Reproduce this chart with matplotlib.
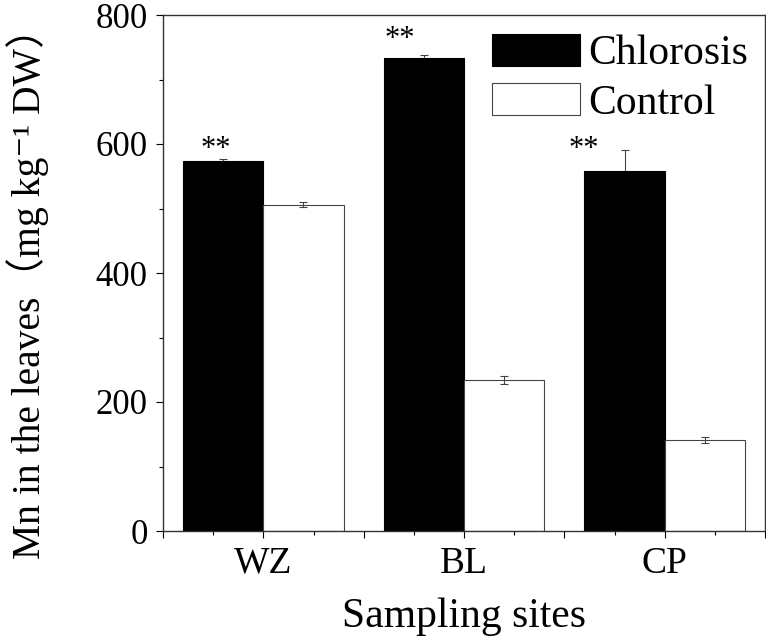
#!/usr/bin/env python3

import matplotlib.pyplot as plt
import numpy as np

plt.rcParams['font.family'] = ['Liberation Serif', 'Noto Sans CJK SC', 'DejaVu Serif']

sites = ["WZ", "BL", "CP"]
chlorosis = [573, 734, 558]
chlorosis_err = [4, 4, 32]
control = [506, 234, 141]
control_err = [4, 6, 4]
stars = ["**", "**", "**"]
star_y = [592, 762, 592]
star_shift = [-0.47, -0.64, -0.81]

x = np.array([1, 3, 5])
w = 0.8

fig = plt.figure(figsize=(7.66, 6.42), dpi=100)
ax = fig.add_axes([163/766, 1 - 531/642, 602/766, 516/642])

# chlorosis whiskers sit behind the black bars, so only the upper half shows
ax.errorbar(x - w/2, chlorosis, yerr=chlorosis_err, fmt='none', ecolor='#444444',
            elinewidth=0.8, capsize=3, capthick=0.8, zorder=1)
ax.bar(x - w/2, chlorosis, w, color='black', edgecolor='black', linewidth=0.8,
       label='Chlorosis', zorder=2)
ax.bar(x + w/2, control, w, color='white', edgecolor='#444444', linewidth=0.8,
       label='Control', zorder=2)
ax.errorbar(x + w/2, control, yerr=control_err, fmt='none', ecolor='#444444',
            elinewidth=0.8, capsize=3, capthick=0.8, zorder=3)

for xi, s, ys, dx in zip(x, stars, star_y, star_shift):
    ax.text(xi + dx, ys, s, ha='center', va='center', fontsize=22)

ax.set_xlim(0, 6)
ax.set_ylim(0, 800)
ax.set_xticks(np.arange(0, 7))
ax.set_xticklabels(["", "WZ", "", "BL", "", "CP", ""])
ax.set_xticks(np.arange(0.5, 6, 1), minor=True)
ax.set_yticks(np.arange(0, 801, 200))
ax.set_yticks(np.arange(100, 800, 200), minor=True)
ax.tick_params(which='major', direction='out', length=5, width=0.8, pad=6)
ax.tick_params(which='minor', direction='out', length=3, width=0.8)
ax.tick_params(axis='y', labelsize=25)
ax.tick_params(axis='x', labelsize=27)
for sp in ax.spines.values():
    sp.set_linewidth(1.0)
    sp.set_color('#333333')

ax.set_xlabel("Sampling sites", fontsize=30, labelpad=12)
ax.set_ylabel("Mn in the leaves（mg kg⁻¹ DW）", fontsize=28.5)
ax.yaxis.set_label_coords(-0.19, 0.48)

ax.legend(loc='upper left', bbox_to_anchor=(492/766, 1 - 34/642), bbox_transform=fig.transFigure,
          frameon=False, fontsize=30, handlelength=2.1, handleheight=0.8,
          handletextpad=0.2, labelspacing=0.24, borderpad=0, borderaxespad=0)

plt.savefig("out.png", dpi=100)
